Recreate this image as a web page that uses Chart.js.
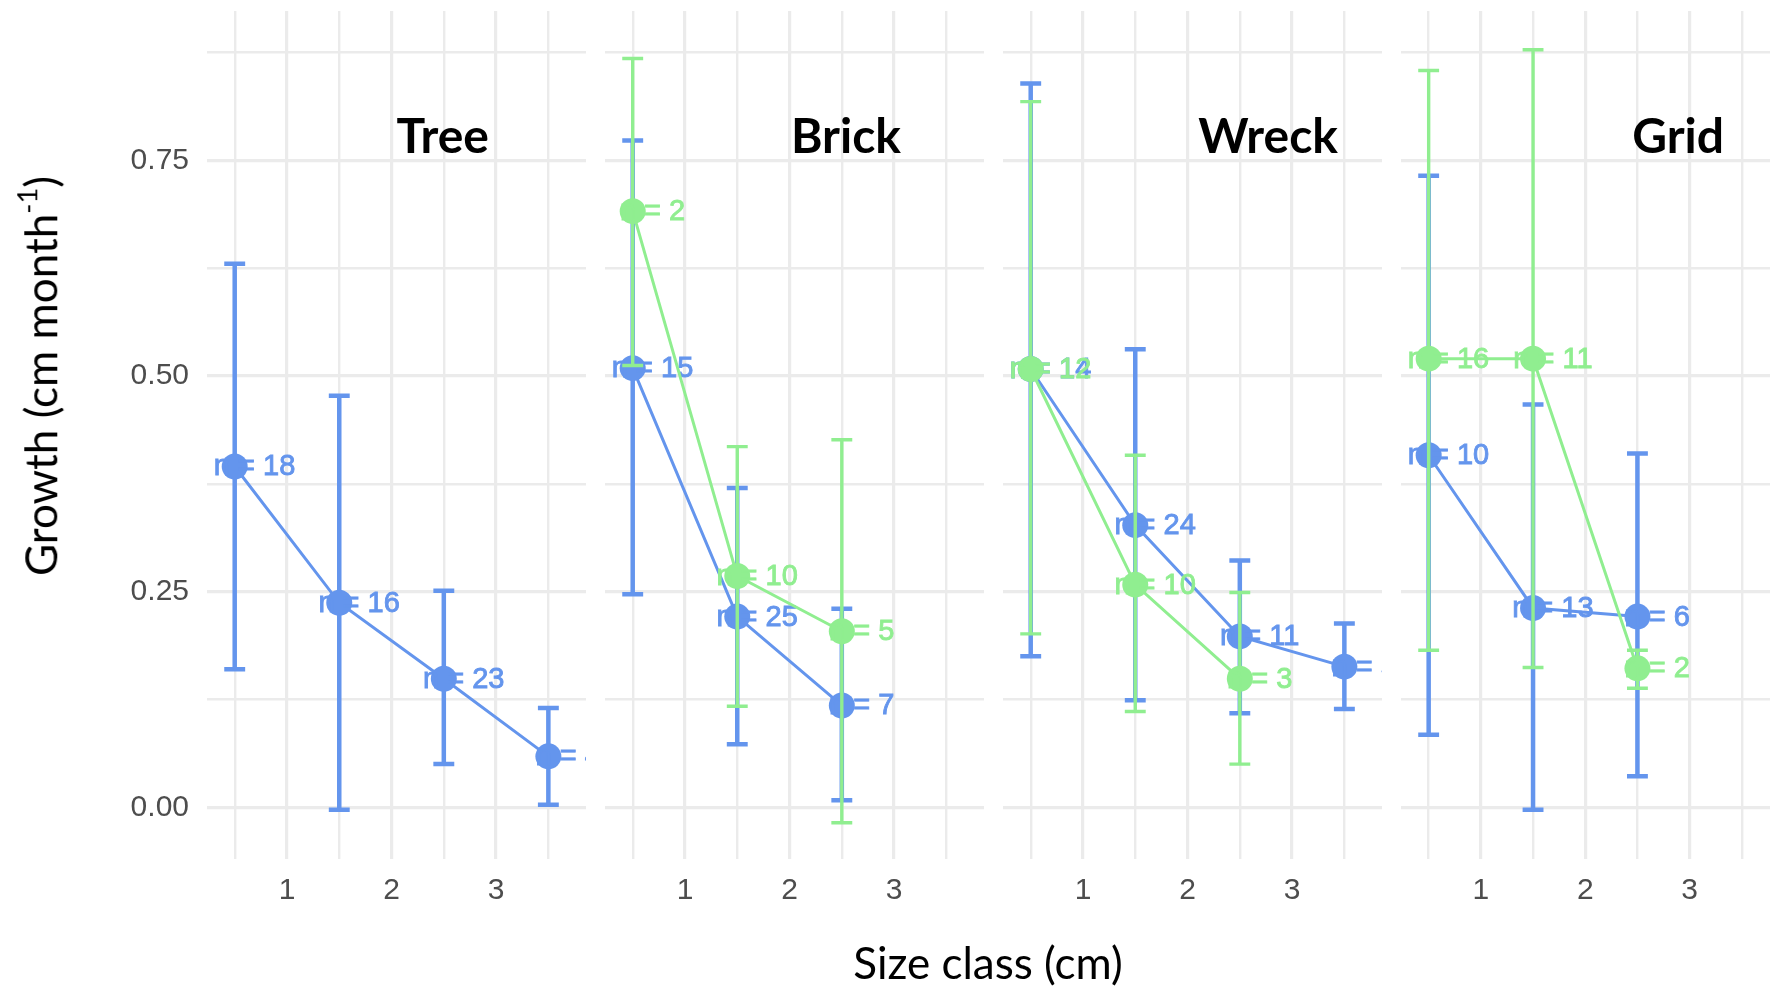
<!DOCTYPE html>
<html>
<head>
<meta charset="utf-8">
<script src="https://cdn.jsdelivr.net/npm/chart.js@4"></script>
<style>
  body { margin: 0; background: #fff; }
  #page { position: relative; width: 1776px; height: 989px; overflow: hidden; background: #fff; }
  canvas { position: absolute; top: 0; }
  .axis-title { position: absolute; font-family: Lato, "Open Sans", sans-serif; color: #000; white-space: nowrap; line-height: 1; }
</style>
</head>
<body>
<div id="page">
  <canvas id="p0"></canvas>
  <canvas id="p1"></canvas>
  <canvas id="p2"></canvas>
  <canvas id="p3"></canvas>
  <div class="axis-title" id="ytitle" style="font-size:44px; left:38px; top:376px; transform: translate(-50%,-50%) rotate(-90deg);">Growth (cm month<sup style="font-size:0.62em; vertical-align:0.75em;">-1</sup>)</div>
  <div class="axis-title" id="xtitle" style="font-size:44px; left:988px; top:962px; transform: translate(-50%,-50%);">Size class (cm)</div>
</div>
<script>
// facets and size classes
const panelNames = ['Tree', 'Brick', 'Wreck', 'Grid'];
const sizeClass = [0.5, 1.5, 2.5, 3.5];
const xTickLabels = ['1', '2', '3'];
const yTickLabels = ['0.00', '0.25', '0.50', '0.75'];

// blue series, one row per facet
const blueMean  = [[0.395, 0.237, 0.149, 0.059], [0.509, 0.221, 0.118], [0.508, 0.327, 0.198, 0.163], [0.408, 0.231, 0.221]];
const blueLower = [[0.160, -0.003, 0.050, 0.003], [0.247, 0.073, 0.008], [0.175, 0.124, 0.109, 0.114], [0.084, -0.003, 0.036]];
const blueUpper = [[0.630, 0.477, 0.251, 0.115], [0.773, 0.370, 0.230], [0.839, 0.531, 0.286, 0.213], [0.732, 0.467, 0.410]];
const blueN     = [[18, 16, 23, 4], [15, 25, 7], [14, 24, 11, 5], [10, 13, 6]];

// green series
const greenMean  = [[], [0.691, 0.268, 0.204], [0.508, 0.258, 0.149], [0.520, 0.520, 0.161]];
const greenLower = [[], [0.512, 0.117, -0.018], [0.201, 0.111, 0.050], [0.182, 0.162, 0.138]];
const greenUpper = [[], [0.868, 0.418, 0.426], [0.818, 0.408, 0.249], [0.854, 0.878, 0.182]];
const greenN     = [[], [2, 10, 5], [12, 10, 3], [16, 11, 2]];

const BLUE = '#6495ED';
const GREEN = '#90EE90';

// panel layout in page pixels
const panelLeft = [207, 605, 1003, 1401];
const panelWidth = [379, 379, 379, 369];
const xMax = [3.86, 3.86, 3.86, 3.77];
const titleRight = [282, 296, 335, 323];
const yAxisWidth = 207;
const canvasHeight = 940;
const plotTop = 11;
const plotBottom = 859;

const yGrid = [0, 0.125, 0.25, 0.375, 0.5, 0.625, 0.75, 0.875];
const xGrid = [0.5, 1, 1.5, 2, 2.5, 3, 3.5];

function isMajor(v) {
    return Math.abs(v * 4 - Math.round(v * 4)) < 1e-6;
}

const errorBarPlugin = {
    id: 'errorBars',
    beforeDatasetDraw(chart, args) {
        const ds = chart.data.datasets[args.index];
        const xs = chart.scales.x, ys = chart.scales.y;
        const ctx = chart.ctx;
        ctx.save();
        ctx.strokeStyle = ds.borderColor;
        ctx.lineWidth = ds.errorWidth;
        ds.data.forEach((p, i) => {
            const x = xs.getPixelForValue(p.x);
            const xa = xs.getPixelForValue(p.x - 0.1);
            const xb = xs.getPixelForValue(p.x + 0.1);
            const yl = ys.getPixelForValue(ds.lower[i]);
            const yh = ys.getPixelForValue(ds.upper[i]);
            ctx.beginPath();
            ctx.moveTo(x, yl); ctx.lineTo(x, yh);
            ctx.moveTo(xa, yl); ctx.lineTo(xb, yl);
            ctx.moveTo(xa, yh); ctx.lineTo(xb, yh);
            ctx.stroke();
        });
        ctx.restore();
    },
    afterDatasetDraw(chart, args) {
        const ds = chart.data.datasets[args.index];
        const xs = chart.scales.x, ys = chart.scales.y;
        const a = chart.chartArea;
        const ctx = chart.ctx;
        ctx.save();
        ctx.beginPath();
        ctx.rect(a.left, a.top, a.right - a.left, a.bottom - a.top);
        ctx.clip();
        ctx.fillStyle = ds.borderColor;
        ctx.strokeStyle = ds.borderColor;
        ctx.lineWidth = 0.9;
        ctx.font = '29px "Liberation Sans", Arial, sans-serif';
        ctx.textAlign = 'center';
        ctx.textBaseline = 'middle';
        ds.data.forEach((p, i) => {
            const label = 'n = ' + ds.counts[i];
            const tx = xs.getPixelForValue(p.x + 0.19);
            const ty = ys.getPixelForValue(p.y) + 1;
            ctx.fillText(label, tx, ty);
            ctx.strokeText(label, tx, ty);
        });
        ctx.restore();
    }
};

const titlePlugin = {
    id: 'panelTitle',
    afterDraw(chart) {
        const o = chart.options.plugins.panelTitle;
        const ctx = chart.ctx;
        ctx.save();
        ctx.fillStyle = '#000';
        ctx.font = 'bold 48px Lato, "Open Sans", sans-serif';
        ctx.textAlign = 'right';
        ctx.textBaseline = 'alphabetic';
        ctx.fillText(o.text, chart.chartArea.left + o.right, 153);
        ctx.restore();
    }
};

function makeSeries(mean, lower, upper, counts, color, errW, order) {
    return {
        data: mean.map((v, i) => ({ x: sizeClass[i], y: v })),
        lower: lower,
        upper: upper,
        counts: counts,
        borderColor: color,
        backgroundColor: color,
        borderWidth: 3,
        pointRadius: 13,
        pointHoverRadius: 13,
        pointBorderWidth: 0,
        pointBackgroundColor: color,
        errorWidth: errW,
        order: order
    };
}

panelNames.forEach((name, k) => {
    const first = k === 0;
    const canvas = document.getElementById('p' + k);
    const left = first ? 0 : panelLeft[k];
    canvas.width = panelLeft[k] + panelWidth[k] - left;
    canvas.height = canvasHeight;
    canvas.style.left = left + 'px';

    const datasets = [makeSeries(blueMean[k], blueLower[k], blueUpper[k], blueN[k], BLUE, 4.5, 1)];
    if (greenMean[k].length) {
        datasets.push(makeSeries(greenMean[k], greenLower[k], greenUpper[k], greenN[k], GREEN, 3.4, 0));
    }

    new Chart(canvas, {
        type: 'line',
        data: { datasets: datasets },
        plugins: [errorBarPlugin, titlePlugin],
        options: {
            responsive: false,
            animation: false,
            layout: { autoPadding: false, padding: { top: plotTop, left: 0, right: 0, bottom: 0 } },
            plugins: {
                legend: { display: false },
                tooltip: { enabled: false },
                panelTitle: { text: name, right: titleRight[k] }
            },
            scales: {
                x: {
                    type: 'linear',
                    min: 0.235,
                    max: xMax[k],
                    afterBuildTicks: axis => { axis.ticks = xGrid.map(v => ({ value: v })); },
                    afterFit: s => {
                        s.height = canvasHeight - plotBottom;
                        s.paddingLeft = 0; s.paddingRight = 0; s.paddingTop = 0; s.paddingBottom = 0;
                    },
                    grid: {
                        drawTicks: false,
                        color: '#ebebeb',
                        lineWidth: c => Number.isInteger(c.tick.value) ? 3.2 : 2.4
                    },
                    border: { display: false },
                    ticks: {
                        autoSkip: false,
                        maxRotation: 0,
                        padding: 14,
                        color: '#4d4d4d',
                        font: { family: '"Liberation Sans", Arial, sans-serif', size: 30 },
                        callback: v => (Number.isInteger(v) ? xTickLabels[v - 1] : '')
                    }
                },
                y: {
                    type: 'linear',
                    min: -0.06,
                    max: 0.923,
                    afterBuildTicks: axis => { axis.ticks = yGrid.map(v => ({ value: v })); },
                    afterFit: s => {
                        s.width = first ? yAxisWidth : 0;
                        s.paddingLeft = 0; s.paddingRight = 0; s.paddingTop = 0; s.paddingBottom = 0;
                    },
                    grid: {
                        drawTicks: false,
                        color: '#ebebeb',
                        lineWidth: c => isMajor(c.tick.value) ? 3.2 : 2.4
                    },
                    border: { display: false },
                    ticks: {
                        display: first,
                        autoSkip: false,
                        padding: 18,
                        color: '#4d4d4d',
                        font: { family: '"Liberation Sans", Arial, sans-serif', size: 30 },
                        callback: v => (isMajor(v) ? yTickLabels[Math.round(v * 4)] : '')
                    }
                }
            }
        }
    });
});
</script>
</body>
</html>
